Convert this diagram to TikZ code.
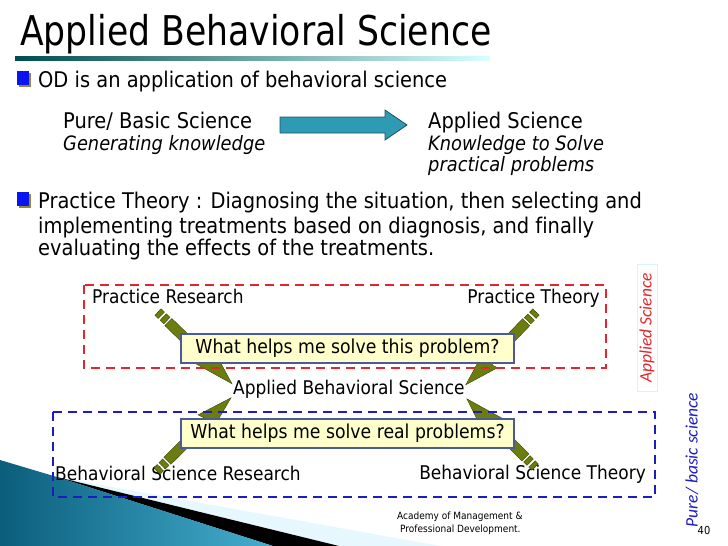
\documentclass[tikz,border=0pt]{standalone}
\usepackage{fontspec}
\setmainfont{DejaVu Sans}[FakeStretch=0.9, Ligatures=NoCommon]
\newfontfamily\titlefont{DejaVu Sans}[FakeStretch=0.845]
\newfontfamily\sidefont{Carlito}
\usetikzlibrary{calc,positioning}

\definecolor{slideteal}{HTML}{2E9AB4}
\definecolor{cornerdark}{HTML}{0B5E7C}
\definecolor{cornerlight}{HTML}{45AECF}
\definecolor{boltfill}{HTML}{6C7D10}
\definecolor{boltdark}{HTML}{3B4500}
\definecolor{boxfill}{HTML}{FFFFCC}
\definecolor{boxline}{HTML}{4A5A9A}
\definecolor{dashred}{HTML}{E3262B}
\definecolor{dashblue}{HTML}{1C1CC0}
\definecolor{bulletblue}{HTML}{0A14F0}
\definecolor{bulletshade}{HTML}{8E8A3C}

\tikzset{
  body/.style={anchor=base west, inner sep=0pt, font=\fontsize{21.6}{25}\selectfont},
  bodyit/.style={body, font=\fontsize{19.8}{24}\selectfont\itshape},
  diag/.style={anchor=base west, inner sep=0pt, font=\fontsize{18.9}{23}\selectfont},
  question/.style={draw=boxline, line width=1.2pt, fill=boxfill, minimum width=333pt,
    minimum height=29pt, inner sep=0pt, font=\fontsize{19.2}{23}\selectfont},
  frame/.style={line width=2.6pt, dash pattern=on 9pt off 6pt},
  sidelabel/.style={rotate=90, inner sep=0pt, font=\sidefont\itshape\fontsize{17.5}{20}\selectfont},
  footer/.style={anchor=base west, inner sep=0pt, font=\fontsize{10}{12}\selectfont},
}

% point at fraction #3 from #1 to #2, moved #4 sideways
\newcommand\bp[4]{($($(#1)!#3!(#2)$)!#4!90:(#2)$)}
\newcommand\bolt[2]{%
  \foreach \a/\b in {0/0.045,0.07/0.12}
    \filldraw[fill=boltfill, draw=boltdark, line width=0.4pt]
      \bp{#1}{#2}{\a}{-4.5pt} -- \bp{#1}{#2}{\b}{-4.5pt} -- \bp{#1}{#2}{\b}{4.5pt} -- \bp{#1}{#2}{\a}{4.5pt} -- cycle;
  \filldraw[fill=boltfill, draw=boltdark, line width=0.4pt]
    \bp{#1}{#2}{0.14}{-5pt} -- \bp{#1}{#2}{0.6}{-5pt} -- \bp{#1}{#2}{0.57}{-12pt} -- (#2)
    -- \bp{#1}{#2}{0.66}{11pt} -- \bp{#1}{#2}{0.68}{5pt} -- \bp{#1}{#2}{0.14}{5pt} -- cycle;
}

\begin{document}
\begin{tikzpicture}[x=1pt,y=-1pt]
\useasboundingbox (0,0) rectangle (728,546);

% corner of the slide theme
\fill[cyan!10] (57,477) -- (440,546) -- (339,546) -- cycle;
\fill[black] (57,477) -- (339,546) -- (273,546) -- cycle;
\shade[left color=cornerdark, right color=cornerlight] (0,460) -- (57,477) -- (273,546) -- (0,546) -- cycle;

\node[anchor=base west, inner sep=0pt, font=\titlefont\fontsize{41}{48}\selectfont] (title) at (20,45) {Applied Behavioral Science};
\shade[left color=teal!60!black, right color=cyan!15] (15,56) rectangle (490,60);

\foreach \y in {71,192} {
  \fill[bulletshade] (19,\y+2) rectangle (31,\y+16);
  \fill[bulletblue] (17,\y) rectangle (29,\y+14);
}

\node[body] (od) at (38,87) {OD is an application of behavioral science};
\node[body] (pure) at (63,128) {Pure/ Basic Science};
\node[bodyit] (gen) at (63,150) {Generating knowledge};
\node[body] (appl) at (428,128) {Applied Science};
\node[bodyit] (solve) at (428,150) {Knowledge to Solve};
\node[bodyit] (practical) at (428,171) {practical problems};

\coordinate (arrs) at (280,125);
\coordinate (arre) at (407,125);
\filldraw[fill=slideteal, draw=slideteal!55!black, line width=0.8pt]
  ($(arrs)+(0,-8)$) -- ($(arre)+(-22,-8)$) -- ($(arre)+(-22,-15)$) -- (arre)
  -- ($(arre)+(-22,15)$) -- ($(arre)+(-22,8)$) -- ($(arrs)+(0,8)$) -- cycle;

\node[body] (pt1) at (38,208) {Practice Theory : Diagnosing the situation, then selecting and};
\node[body] (pt2) at (38,233) {implementing treatments based on diagnosis, and finally};
\node[body] (pt3) at (38,255) {evaluating the effects of the treatments.};

\node[diag] (pr) at (92,303) {Practice Research};
\node[diag, anchor=base east] (pth) at (600,303) {Practice Theory};
\node[diag] (abs) at (233,394) {Applied Behavioral Science};
\node[diag] (bsr) at (55,480) {Behavioral Science Research};
\node[diag, anchor=base east] (bst) at (646,479) {Behavioral Science Theory};

\coordinate (prtail) at (158,312);
\coordinate (pttail) at (536,312);
\coordinate (bsrtail) at (157,471);
\coordinate (bsttail) at (535,467);
\coordinate (tip1) at ($(abs.west)+(-1,-5)$);
\coordinate (tip2) at ($(abs.east)+(1,-4)$);
\coordinate (tip3) at ($(abs.west)+(-2,9)$);
\coordinate (tip4) at ($(abs.east)+(2,10)$);
\bolt{prtail}{tip1}
\bolt{pttail}{tip2}
\bolt{bsrtail}{tip3}
\bolt{bsttail}{tip4}

\draw[frame, dashred] (84,285) rectangle (606,368);
\draw[frame, dashblue] (53,412) rectangle (655,497);

\node[question] (q1) at (347.5,348.5) {What helps me solve this problem?};
\node[question] (q2) at (347.5,433.5) {What helps me solve real problems?};

\node[sidelabel, text=dashred, draw=cyan!15, line width=0.6pt, minimum width=127pt, minimum height=20pt] (appside) at (647,328) {Applied Science};
\node[sidelabel, text=dashblue] (pureside) at (692,460) {Pure/ basic science};
\node[inner sep=0pt, font=\fontsize{11}{13}\selectfont] (page) at (704,530) {40};

\node[footer] (acad) at (397,519) {Academy of Management \&};
\node[footer] (prof) at (400,532) {Professional Development.};
\end{tikzpicture}
\end{document}
